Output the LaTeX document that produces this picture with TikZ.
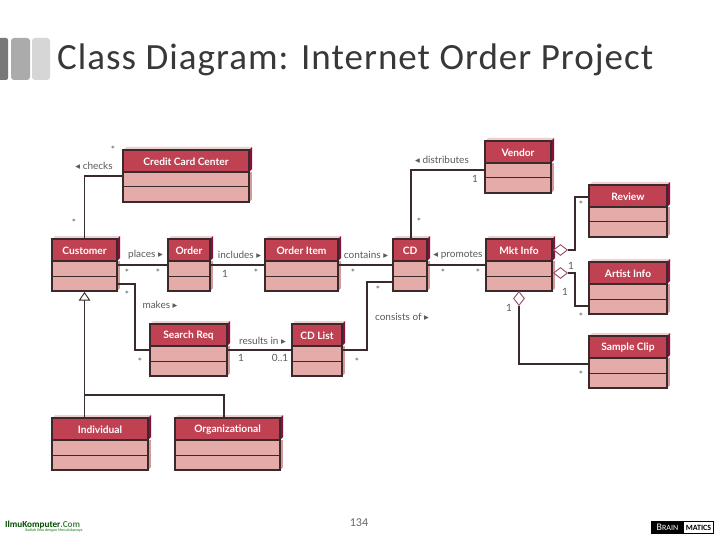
\documentclass[tikz,border=0pt]{standalone}
\usepackage{fontspec}
\setmainfont{Carlito}
\newfontfamily\symfont{DejaVu Sans}
\newfontfamily\lblfont{Lato}
\newfontfamily\ttlfont[LetterSpace=2.8]{Carlito}
\usetikzlibrary{arrows.meta,shapes.geometric,calc}
\definecolor{hdr}{HTML}{C04152}
\definecolor{comp}{HTML}{E5ABA9}
\definecolor{sidec}{HTML}{D39A9A}
\definecolor{topc}{HTML}{EFD0CF}
\definecolor{sideh}{HTML}{8A0F3C}
\definecolor{edge}{HTML}{3B2A2C}
\definecolor{lbl}{HTML}{5A5A5A}
\definecolor{dia}{HTML}{9A4A66}
\newcommand{\lft}{{\symfont\fontsize{9.5}{10}\selectfont\char"25C2}}
\newcommand{\rgt}{{\symfont\fontsize{9.5}{10}\selectfont\char"25B8}}
\newcommand{\umlclass}[5]{% id, x0, x1, y0, title
  \pgfmathsetmacro{\yh}{#4+22}\pgfmathsetmacro{\ym}{#4+37}\pgfmathsetmacro{\yb}{#4+52}
  \pgfmathsetmacro{\xm}{(#2+#3)/2}\pgfmathsetmacro{\ymid}{#4+26}\pgfmathsetmacro{\yt}{#4+11.5}
  \fill[topc] (#2,#4) -- (#2+3,#4-3) -- (#3+3,#4-3) -- (#3,#4) -- cycle;
  \fill[sidec] (#3,\yh) rectangle (#3+3,\yb-3);
  \fill[sidec] (#3,\yb) -- (#3+3,\yb-3) -- (#3,\yb-3) -- cycle;
  \fill[sideh] (#3,#4) -- (#3+3,#4-3) -- (#3+3,\yh-3) -- (#3,\yh) -- cycle;
  \fill[comp] (#2,#4) rectangle (#3,\yb);
  \fill[hdr] (#2,#4) rectangle (#3,\yh);
  \draw[boxline] (#2,\yh) -- (#3,\yh);
  \draw[boxline,line width=1pt] (#2,\ym) -- (#3,\ym);
  \node[classframe,minimum width={#3-#2},minimum height=52] (#1) at (\xm,\ymid) {};
  \node[classtitle] (#1-t) at (\xm,\yt) {#5};
}
\tikzset{
  x=1pt,y=-1pt,
  boxline/.style={edge,line width=1.1pt},
  classframe/.style={draw=edge,line width=1.2pt,inner sep=0,outer sep=0,rectangle},
  classtitle/.style={text=white,font=\lblfont\bfseries\fontsize{10.2}{11}\selectfont,inner sep=0},
  conn/.style={edge,line width=1.2pt},
  lab/.style={text=lbl,font=\lblfont\fontsize{10}{11}\selectfont,inner sep=0},
  mult/.style={text=lbl,font=\lblfont\fontsize{10}{11}\selectfont,inner sep=0},
  aggrh/.style={diamond,draw=dia,fill=white,line width=0.9pt,inner sep=0,minimum width=14,minimum height=11,shape aspect=1.27},
  aggrv/.style={diamond,draw=dia,fill=white,line width=0.9pt,inner sep=0,minimum width=11,minimum height=14,shape aspect=0.79},
}
\begin{document}
\begin{tikzpicture}
\path[use as bounding box,fill=white] (0,0) rectangle (720,540);
% corner bars
\fill[fill=black!53,rounded corners=2pt] (-3,38) rectangle (8,80);
\fill[fill=black!33,rounded corners=3pt] (11,38) rectangle (30,80);
\fill[fill=black!16,rounded corners=3pt] (32,38) rectangle (50,80);
\node[anchor=west,inner sep=0,text=black!78,font=\ttlfont\fontsize{37}{40}\selectfont] (title) at (57,60) {Class Diagram: Internet Order Project};
% classes
\umlclass{credit}{123}{249}{150}{Credit Card Center}
\umlclass{customer}{52}{117}{239}{Customer}
\umlclass{order}{168}{210}{239}{Order}
\umlclass{item}{265}{338}{239}{Order Item}
\umlclass{cd}{393}{427}{239}{CD}
\umlclass{vendor}{485}{551}{141}{Vendor}
\umlclass{mkt}{486}{552}{239}{Mkt Info}
\umlclass{review}{589}{667}{185}{Review}
\umlclass{artist}{589}{667}{262}{Artist Info}
\umlclass{clip}{589}{667}{336}{Sample Clip}
\umlclass{search}{150}{227}{324}{Search Req}
\umlclass{cdlist}{292}{342}{324}{CD List}
\umlclass{indiv}{52}{148}{418}{Individual}
\umlclass{org}{175}{280}{418}{Organizational}
% routing points
\coordinate (mk) at (135,284);
\coordinate (co) at (367,282);
\coordinate (ds) at (411,170);
\coordinate (rv) at (575,197);
\coordinate (ar) at (575,306);
\coordinate (sc) at (519,364);
\coordinate (gb) at (84.5,395);
\coordinate (ot) at (224,395);
% connectors
\draw[conn] (customer.north) |- (credit.west);
\draw[conn] (customer.east) -- (order.west);
\draw[conn] (order.east) -- (item.west);
\draw[conn] (item.east) -- (cd.west);
\draw[conn] (cd.east) -- (mkt.west);
\draw[conn] (customer.east |- mk) -- (mk) |- (search.west);
\draw[conn] (search.east) -- (cdlist.west);
\draw[conn] (cdlist.east) -| (co) -- (cd.west |- co);
\draw[conn] (cd.north -| ds) |- (vendor.west |- ds);
\node[aggrh] (d1) at (560.5,250) {};
\node[aggrh] (d2) at (560.5,273) {};
\node[aggrv] (d3) at (519,298.5) {};
\draw[conn] (d1.east) -| (rv) -- (review.west |- rv);
\draw[conn] (d2.east) -| (ar) -- (artist.west |- ar);
\draw[conn] (d3.south) -- (sc) -- (clip.west |- sc);
\draw[conn,-{Triangle[open,length=8.5pt,width=11.5pt,line width=0.9pt]}] (customer.south |- indiv.north) -- ($(customer.south)+(0,1)$);
\draw[conn] (gb) -- (ot) -- (org.north -| ot);
% association labels
\node[lab] (l1) at (94,166) {\lft\ checks};
\node[lab] (l2) at (145.5,255) {places \rgt};
\node[lab] (l3) at (239.5,255) {includes \rgt};
\node[lab] (l4) at (366,255) {contains \rgt};
\node[lab] (l5) at (442,160) {\lft\ distributes};
\node[lab] (l6) at (458,255) {\lft\ promotes};
\node[lab] (l7) at (160,305) {makes \rgt};
\node[lab] (l8) at (262.5,341) {results in \rgt};
\node[lab] (l9) at (402,317) {consists of \rgt};
% multiplicities
\node[mult] (m1) at (113,150) {*};
\node[mult] (m2) at (74,223) {*};
\node[mult] (m3) at (127,273) {*};
\node[mult] (m4) at (158,273) {*};
\node[mult] (m5) at (256,273) {*};
\node[mult] (m6) at (353,273) {*};
\node[mult] (m7) at (127,295) {*};
\node[mult] (m8) at (378,290) {*};
\node[mult] (m9) at (140,362) {*};
\node[mult] (m10) at (357,362) {*};
\node[mult] (m11) at (419,222) {*};
\node[mult] (m12) at (443,273) {*};
\node[mult] (m13) at (478,273) {*};
\node[mult] (m14) at (581,205) {*};
\node[mult] (m15) at (581,317) {*};
\node[mult] (m16) at (581,375) {*};
\node[mult] (n1) at (225,274) {1};
\node[mult] (n2) at (241,358) {1};
\node[mult] (n3) at (280,358) {0..1};
\node[mult] (n4) at (475,179) {1};
\node[mult] (n5) at (571,266) {1};
\node[mult] (n6) at (565,292) {1};
\node[mult] (n7) at (509,308) {1};
% footer
\node[inner sep=0,text=black!60,font=\fontsize{12}{14}\selectfont] (page) at (359,523) {134};
\node[anchor=west,inner sep=0,font=\bfseries\fontsize{9.2}{12}\selectfont] (ilmu) at (5,524.5) {\textcolor{green!30!black}{IlmuKomputer}\textcolor{green!30!black!70}{.Com}};
\node[anchor=west,inner sep=0,text=green!50!black,font=\fontsize{4}{5}\selectfont] (ilmu2) at (25,530.5) {Ikatlah Ilmu dengan Menuliskannya};
\fill[black] (651,521) rectangle (684,533);
\draw[black,line width=0.7pt] (651,521) rectangle (713,533);
\node[inner sep=0,text=white,font=\fontsize{10}{10}\selectfont] (br) at (667.5,527) {B\scalebox{.8}{RAIN}};
\node[inner sep=0,text=black,font=\bfseries\fontsize{8}{8}\selectfont] (ma) at (698.5,527.5) {MATICS};
\end{tikzpicture}
\end{document}
